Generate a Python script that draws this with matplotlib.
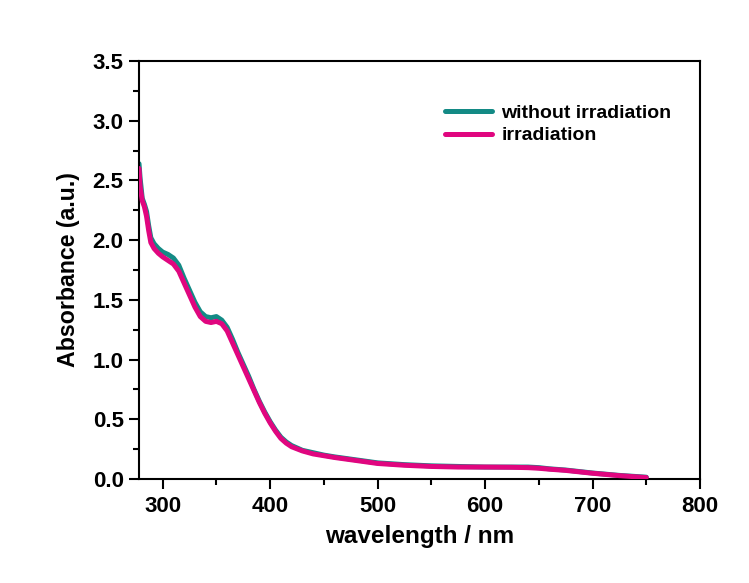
import matplotlib
matplotlib.use("Agg")
import matplotlib.pyplot as plt
from matplotlib.ticker import MultipleLocator, FormatStrFormatter

plt.rcParams['font.family'] = ['Liberation Sans', 'DejaVu Sans']
plt.rcParams['font.weight'] = 'bold'

wavelength = [278, 279, 281, 283, 285, 287, 289, 292, 296, 300, 305, 310, 315, 320, 325,
              330, 335, 340, 345, 350, 355, 360, 365, 370, 375, 380, 385, 390, 395, 400,
              405, 410, 415, 420, 430, 440, 450, 460, 480, 500, 525, 550, 575, 600, 625,
              640, 650, 660, 675, 700, 725, 750]
without_irr = [2.64, 2.52, 2.35, 2.30, 2.24, 2.12, 2.02, 1.97, 1.93, 1.90, 1.88, 1.85, 1.79,
               1.68, 1.58, 1.48, 1.40, 1.36, 1.35, 1.36, 1.33, 1.27, 1.17, 1.06, 0.96, 0.86,
               0.75, 0.65, 0.56, 0.48, 0.41, 0.35, 0.31, 0.28, 0.24, 0.22, 0.20, 0.185, 0.16,
               0.135, 0.12, 0.11, 0.105, 0.10, 0.10, 0.10, 0.095, 0.085, 0.075, 0.05, 0.03, 0.015]
irradiation = [2.60, 2.45, 2.33, 2.28, 2.20, 2.08, 1.98, 1.93, 1.89, 1.86, 1.83, 1.80, 1.74,
               1.64, 1.54, 1.44, 1.36, 1.32, 1.31, 1.32, 1.30, 1.24, 1.14, 1.04, 0.94, 0.84,
               0.74, 0.64, 0.55, 0.47, 0.40, 0.34, 0.30, 0.27, 0.235, 0.21, 0.195, 0.18, 0.155,
               0.13, 0.115, 0.105, 0.10, 0.10, 0.098, 0.095, 0.09, 0.082, 0.072, 0.048, 0.028, 0.012]
series_labels = ["without irradiation", "irradiation"]

fig = plt.figure(figsize=(7.49, 5.83), dpi=100)
ax = fig.add_axes([0.1856, 0.1784, 0.749, 0.717])

ax.plot(wavelength, without_irr, color='#138a85', lw=3.6, label=series_labels[0],
        solid_capstyle='round', solid_joinstyle='round', zorder=2)
ax.plot(wavelength, irradiation, color='#e0067f', lw=3.6, label=series_labels[1],
        solid_capstyle='round', solid_joinstyle='round', zorder=3)

ax.set_xlim(278, 800)
ax.set_ylim(0, 3.5)
ax.xaxis.set_major_locator(MultipleLocator(100))
ax.xaxis.set_minor_locator(MultipleLocator(50))
ax.yaxis.set_major_locator(MultipleLocator(0.5))
ax.yaxis.set_minor_locator(MultipleLocator(0.25))
ax.yaxis.set_major_formatter(FormatStrFormatter('%.1f'))

for s in ax.spines.values():
    s.set_linewidth(1.5)
ax.tick_params(which='major', direction='out', length=7, width=1.5, labelsize=16)
ax.tick_params(axis='y', which='major', pad=4)
ax.tick_params(axis='x', which='major', pad=5)
ax.tick_params(which='minor', direction='out', length=4, width=1.5)
ax.tick_params(top=False, right=False)
for lab in ax.get_xticklabels() + ax.get_yticklabels():
    lab.set_fontweight('bold')

ax.set_xlabel('wavelength / nm', fontsize=17.5, fontweight='bold', labelpad=6)
ax.set_ylabel('Absorbance (a.u.)', fontsize=16.7, fontweight='bold', labelpad=9)

leg = ax.legend(loc='upper left', bbox_to_anchor=((445 - 139) / 561, 0.897), frameon=False,
                handlelength=2.4, handletextpad=0.5, labelspacing=0.26,
                borderpad=0, borderaxespad=0,
                prop={'weight': 'bold', 'size': 14})

fig.savefig('out.png', dpi=100, facecolor='white')
